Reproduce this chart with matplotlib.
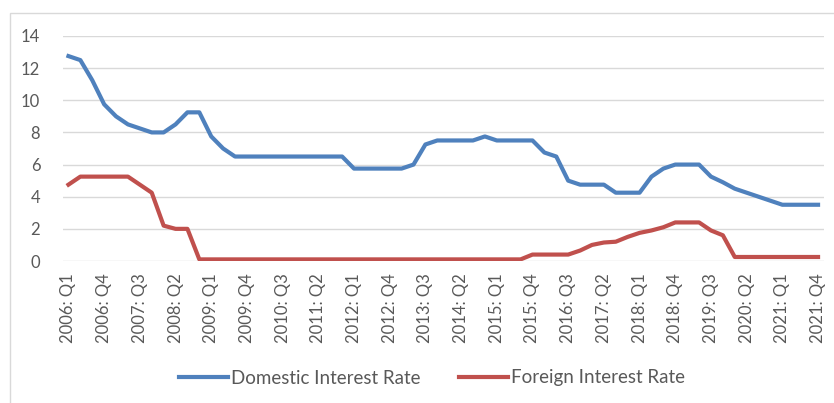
import matplotlib
matplotlib.use("Agg")
import matplotlib.pyplot as plt
from matplotlib.patches import Rectangle

years = list(range(2006, 2022))
quarters = [f"{y}: Q{q}" for y in years for q in range(1, 5)]

domestic = [12.75, 12.5, 11.25, 9.75, 9.0, 8.5, 8.25, 8.0, 8.0, 8.5, 9.25, 9.25, 7.75, 7.0,
            6.5, 6.5, 6.5, 6.5, 6.5, 6.5, 6.5, 6.5, 6.5, 6.5,
            5.75, 5.75, 5.75, 5.75, 5.75, 6.0, 7.25, 7.5, 7.5, 7.5, 7.5, 7.75,
            7.5, 7.5, 7.5, 7.5, 6.75, 6.5, 5.0, 4.75, 4.75, 4.75, 4.25, 4.25,
            4.25, 5.25, 5.75, 6.0, 6.0, 6.0, 5.25, 4.9, 4.5, 4.25, 4.0, 3.75,
            3.5, 3.5, 3.5, 3.5]
foreign = [4.75, 5.25, 5.25, 5.25, 5.25, 5.25, 4.75, 4.25, 2.2, 2.0, 2.0,
           0.1, 0.1, 0.1, 0.1, 0.1, 0.1, 0.1, 0.1, 0.1, 0.1, 0.1, 0.1, 0.1, 0.1,
           0.1, 0.1, 0.1, 0.1, 0.1, 0.1, 0.1, 0.1, 0.1, 0.1, 0.1, 0.1, 0.1, 0.1,
           0.4, 0.4, 0.4, 0.4, 0.65, 1.0, 1.15, 1.2, 1.5, 1.75, 1.9, 2.1,
           2.4, 2.4, 2.4, 1.9, 1.6, 0.25, 0.25, 0.25, 0.25, 0.25, 0.25, 0.25, 0.25]

W, H = 834, 403
plt.rcParams['font.family'] = ['Lato', 'DejaVu Sans']
fig = plt.figure(figsize=(W / 100, H / 100), dpi=100)
fig.patches.append(Rectangle((10 / W, -0.1), 1.2, 1 - 13 / H + 0.1, transform=fig.transFigure,
                             fill=False, edgecolor='#d9d9d9', linewidth=1))
ax = fig.add_axes([62.5 / W, 1 - 261 / H, (824 - 62.5) / W, (261 - 36) / H])

x = list(range(len(quarters)))
ax.plot(x, domestic, color='#4f81bd', linewidth=3.0, label='Domestic Interest Rate', solid_joinstyle='round')
ax.plot(x, foreign, color='#c0504d', linewidth=3.0, label='Foreign Interest Rate', solid_joinstyle='round')

ax.set_xlim(-0.5, len(quarters) - 0.5)
ax.set_ylim(0, 14)
ax.set_yticks(range(0, 15, 2))
ax.set_xticks(x[::3])
ax.set_xticklabels(quarters[::3], rotation=90)
ax.grid(axis='y', color='#d9d9d9', linewidth=1)
ax.set_axisbelow(True)
for s in ax.spines.values():
    s.set_visible(False)
ax.tick_params(axis='both', length=0, colors='#595959', labelsize=12)
ax.tick_params(axis='y', pad=16)
ax.tick_params(axis='x', pad=9)

leg = fig.legend(loc='center', bbox_to_anchor=(432 / W, 1 - 378 / H), ncol=2, frameon=False,
                 fontsize=13.5, handlelength=2.6, handletextpad=0.15, columnspacing=2.1)
for t in leg.get_texts():
    t.set_color('#595959')

fig.savefig('out.png', dpi=100)
